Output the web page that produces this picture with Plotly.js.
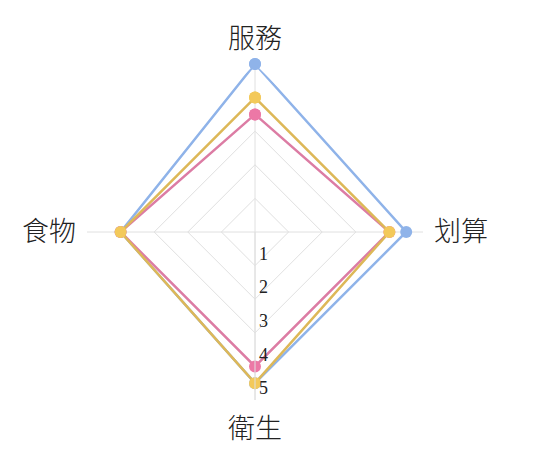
<!DOCTYPE html>
<html>
<head>
<meta charset="utf-8">
<script src="https://cdn.plot.ly/plotly-3.0.1.min.js"></script>
<style>html,body{margin:0;padding:0;background:#fff;}#chart{width:535px;height:467px;}</style>
</head>
<body>
<div id="chart"></div>
<script>
const categories = ["服務", "划算", "衛生", "食物"];
const seriesBlue = [5, 4.5, 4.5, 4];
const seriesPink = [3.5, 4, 4, 4];
const seriesYellow = [4, 4, 4.5, 4];
const tickValues = [1, 2, 3, 4, 5];
const tickLabels = ["1", "2", "3", "4", "5"];

function closed(arr) { return arr.concat([arr[0]]); }

function trace(vals, color, lineColor) {
  return {
    type: "scatterpolar",
    r: closed(vals),
    theta: closed(categories),
    mode: "lines+markers",
    line: {color: lineColor, width: 2.5},
    marker: {color: color, size: 12},
    hoverinfo: "skip",
    showlegend: false
  };
}

const data = [
  trace(seriesBlue, "#8fb3e9", "#8fb3e9"),
  trace(seriesPink, "#ec78a6", "#dc7ca4"),
  trace(seriesYellow, "#f3c95a", "#ddb858")
];

const layout = {
  width: 535, height: 467,
  margin: {l: 87, r: 112, t: 64, b: 67},
  paper_bgcolor: "#ffffff",
  showlegend: false,
  font: {family: "'Noto Sans CJK TC', 'Noto Sans CJK SC', sans-serif", color: "#222"},
  polar: {
    bgcolor: "#ffffff",
    gridshape: "linear",
    angularaxis: {
      direction: "clockwise",
      rotation: 90,
      tickfont: {size: 27, color: "#222", weight: 300, family: "'Noto Sans CJK TC', 'Noto Sans CJK SC', sans-serif"},
      gridcolor: "#e0e0e0",
      linecolor: "#e0e0e0",
      showline: false,
      ticks: "outside",
      ticklen: 5,
      tickcolor: "rgba(0,0,0,0)"
    },
    radialaxis: {
      range: [0, 5],
      angle: -90,
      side: "counterclockwise",
      tickvals: tickValues,
      ticktext: tickLabels.map(t => t + "<br> "),
      tickfont: {size: 18, color: "#222", family: "'Liberation Serif', 'DejaVu Serif', serif"},
      gridcolor: "#e0e0e0",
      linecolor: "#e0e0e0",
      showline: true,
      ticks: "",
      tickangle: -90
    }
  }
};

Plotly.newPlot("chart", data, layout, {displayModeBar: false, staticPlot: true});
</script>
</body>
</html>
